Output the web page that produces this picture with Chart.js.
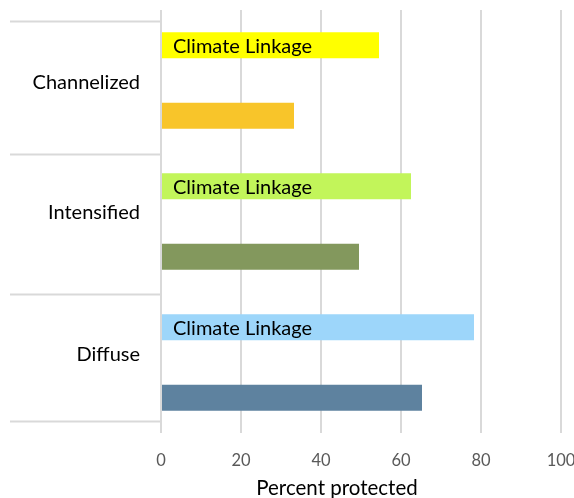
<!DOCTYPE html>
<html>
<head>
<meta charset="utf-8">
<script src="https://cdn.jsdelivr.net/npm/chart.js@4/dist/chart.umd.min.js"></script>
<style>
  html, body { margin: 0; padding: 0; background: #fff; overflow: hidden; }
  #wrap { position: relative; width: 600px; height: 498px; }
</style>
</head>
<body>
<div id="wrap"><canvas id="chart" width="600" height="498"></canvas></div>
<script>
// Drainage types and the share of each that is protected (%)
const categories = ['Channelized', 'Intensified', 'Diffuse'];
const climateLinkage = [54.5, 62.5, 78.25];
const baseProtection = [33.25, 49.5, 65.25];
const xTicks = [0, 20, 40, 60, 80, 100];
const linkageLabel = 'Climate Linkage';
const axisTitle = 'Percent protected';

const linkageColors = ['#FFFF00', '#C2F55A', '#9DD6FA'];
const baseColors = ['#F8C52A', '#83985D', '#5E829F'];

// Each drainage type occupies two rows: climate-linkage bar on top, base bar below
const rowLabels = [];
const rowValues = [];
const rowColors = [];
const rowIsLinkage = [];
categories.forEach((c, i) => {
  rowLabels.push(c + ' linkage', c);
  rowValues.push(climateLinkage[i], baseProtection[i]);
  rowColors.push(linkageColors[i], baseColors[i]);
  rowIsLinkage.push(true, false);
});

const FONT = 'Lato, "Open Sans", sans-serif';

// Group labels, group separators, in-bar labels and the axis title
const decorations = {
  id: 'decorations',
  afterDatasetsDraw(chart) {
    const { ctx, chartArea } = chart;
    const xs = chart.scales.x, ys = chart.scales.y;
    ctx.save();

    // separators along the category column
    ctx.strokeStyle = '#D9D9D9';
    ctx.lineWidth = 2;
    [-0.344, 1.543, 3.528, 5.33].forEach(v => {
      const y = Math.round(ys.getPixelForValue(v)) + 0.5;
      ctx.beginPath();
      ctx.moveTo(chartArea.left - 151, y);
      ctx.lineTo(chartArea.left, y);
      ctx.stroke();
    });

    // group names
    ctx.fillStyle = '#000';
    ctx.font = '20px ' + FONT;
    ctx.textAlign = 'right';
    ctx.textBaseline = 'middle';
    [0.536, 2.38, 4.39].forEach((v, i) => {
      ctx.fillText(categories[i], chartArea.left - 21, ys.getPixelForValue(v));
    });

    // labels inside the climate-linkage bars
    const meta = chart.getDatasetMeta(0);
    ctx.textAlign = 'left';
    ctx.font = '20px ' + FONT;
    meta.data.forEach((bar, i) => {
      if (!rowIsLinkage[i]) return;
      ctx.fillText(linkageLabel, bar.base + 11, bar.y + 1);
    });

    // axis title
    ctx.textAlign = 'center';
    ctx.font = '20.5px ' + FONT;
    ctx.fillText(axisTitle, xs.getPixelForValue(44), 488);
    ctx.restore();
  }
};

new Chart(document.getElementById('chart'), {
  type: 'bar',
  data: {
    labels: rowLabels,
    datasets: [{
      data: rowValues,
      backgroundColor: rowColors,
      borderWidth: 0,
      categoryPercentage: 1,
      barPercentage: 0.37
    }]
  },
  options: {
    indexAxis: 'y',
    responsive: false,
    animation: false,
    layout: { padding: { left: 161, right: 39, top: 10, bottom: 0 } },
    plugins: { legend: { display: false }, tooltip: { enabled: false } },
    scales: {
      x: {
        min: 0,
        max: 100,
        afterBuildTicks(scale) { scale.ticks = xTicks.map(v => ({ value: v })); },
        afterFit(scale) { scale.height = 65; },
        grid: { color: '#D9D9D9', lineWidth: 2, drawTicks: false },
        border: { display: false },
        ticks: {
          color: '#595959',
          font: { family: FONT, size: 16.5 },
          padding: 18,
          maxRotation: 0
        }
      },
      y: { display: false }
    }
  },
  plugins: [decorations]
});
</script>
</body>
</html>
